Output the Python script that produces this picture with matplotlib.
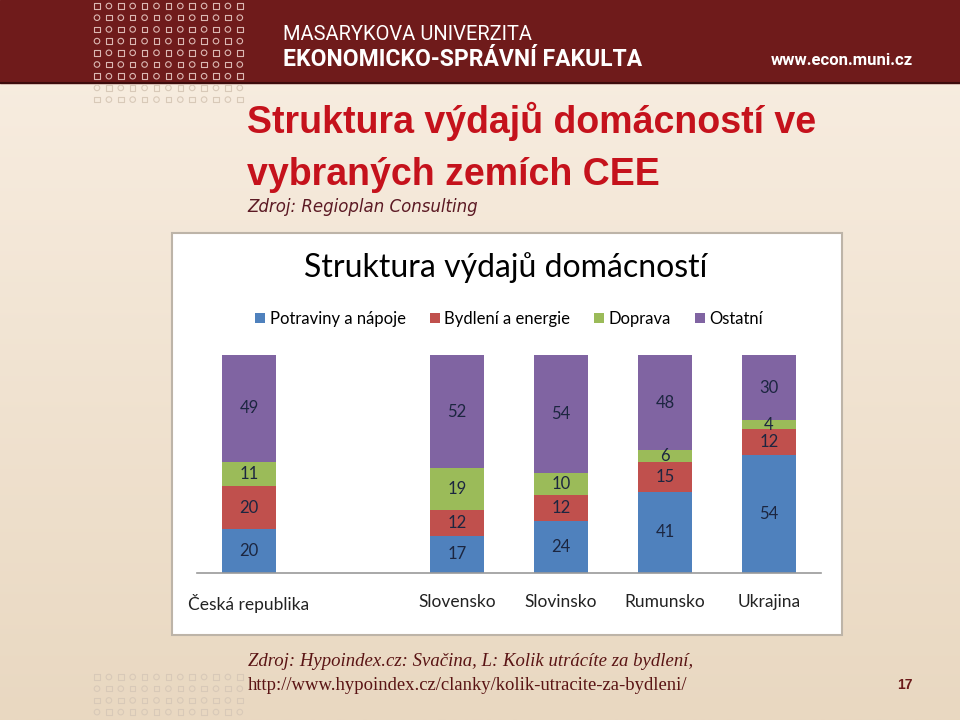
import numpy as np
import matplotlib
matplotlib.use("Agg")
import matplotlib.pyplot as plt
from matplotlib.patches import Rectangle
from matplotlib.colors import LinearSegmentedColormap

# data (Regioplan Consulting, values as printed in the chart)
countries = ["Česká republika", "", "Slovensko", "Slovinsko", "Rumunsko", "Ukrajina"]
series = ["Potraviny a nápoje", "Bydlení a energie", "Doprava", "Ostatní"]
food = np.array([20, 0, 17, 24, 41, 54])
housing = np.array([20, 0, 12, 12, 15, 12])
transport = np.array([11, 0, 19, 10, 6, 4])
other = np.array([49, 0, 52, 54, 48, 30])
colors = ["#4f81bd", "#c0504d", "#9bbb59", "#8064a2"]

fig = plt.figure(figsize=(9.6, 7.2), dpi=100)

# slide background
bg = fig.add_axes([0, 0, 1, 1])
bg.set_xlim(0, 960)
bg.set_ylim(720, 0)
bg.axis("off")
beige = LinearSegmentedColormap.from_list("beige", ["#f9efe3", "#e9d8c1"])
bg.imshow(np.linspace(0, 1, 256).reshape(-1, 1), extent=[0, 960, 720, 0],
          cmap=beige, aspect="auto", zorder=0)
bg.add_patch(Rectangle((0, 0), 960, 83, color="#6f1b1b", zorder=1))
bg.plot([0, 960], [83, 83], color="#3d0c0c", lw=1.5, zorder=2)

# dot pattern
def dots(y0, rows, first_color, other_color, n_top):
    for r in range(rows):
        for c in range(13):
            y = y0 + r * 11.7
            mk = "s" if (r + c) % 2 == 0 else "o"
            col = first_color if r < n_top else other_color
            bg.scatter(97 + c * 11.9, y, marker=mk, s=16, facecolor="none",
                       edgecolor=col, linewidths=0.8, zorder=3)

dots(6, 9, "#dcb8b3", "#d8c9b8", 7)
dots(677, 4, "#d8c9b8", "#d8c9b8", 0)

# header texts
fig.text(283 / 960, 1 - 40 / 720, "MASARYKOVA UNIVERZITA", family="Roboto",
         fontsize=14.5, color="white", va="baseline")
fig.text(283 / 960, 1 - 66 / 720, "EKONOMICKO-SPRÁVNÍ FAKULTA", family="Roboto",
         fontsize=16.5, fontweight="bold", color="white", va="baseline")
fig.text(913 / 960, 1 - 65 / 720, "www.econ.muni.cz", family="Roboto",
         fontsize=12, fontweight="bold", color="white", va="baseline", ha="right")

# slide title
fig.text(247 / 960, 1 - 133 / 720, "Struktura výdajů domácností ve",
         family="Liberation Sans", fontsize=27, fontweight="bold",
         color="#c5121c", va="baseline")
fig.text(247 / 960, 1 - 185 / 720, "vybraných zemích CEE",
         family="Liberation Sans", fontsize=27, fontweight="bold",
         color="#c5121c", va="baseline")
fig.text(247 / 960, 1 - 207 / 720, "Zdroj: Regioplan Consulting",
         family="DejaVu Sans", style="italic", fontsize=12,
         color="#5c1a24", va="center")

# chart box
bg.add_patch(Rectangle((172, 233), 670, 402, facecolor="white",
                       edgecolor="#bdb4a8", lw=1.5, zorder=4))

fig.text(506 / 960, 1 - 268 / 720, "Struktura výdajů domácností",
         family="Lato", fontsize=23, color="black", ha="center", va="center")

# chart
ax = fig.add_axes([197 / 960, (720 - 573) / 720, 624 / 960, 218 / 720])
ax.set_facecolor("none")
total = food + housing + transport + other
x = np.arange(len(countries))
bottom = np.zeros(len(countries))
handles = []
for name, vals, col in zip(series, [food, housing, transport, other], colors):
    share = np.divide(vals * 100.0, total, out=np.zeros(len(vals)), where=total > 0)
    bars = ax.bar(x, share, bottom=bottom, width=0.51, color=col, label=name)
    ax.bar_label(bars, labels=[str(v) if v else "" for v in vals],
                 label_type="center", family="Lato", fontsize=12,
                 color="#1c2640")
    bottom += share
    handles.append(bars)

ax.set_xlim(-0.5, len(countries) - 0.5)
ax.set_ylim(0, 100)
ax.set_yticks([])
ax.set_xticks(x)
ax.set_xticklabels(countries, family="Lato", fontsize=12.5, color="#222222")
ax.tick_params(axis="x", length=0, pad=15)
for s in ["top", "left", "right"]:
    ax.spines[s].set_visible(False)
ax.spines["bottom"].set_color("#9a9a9a")
ax.spines["bottom"].set_linewidth(1.2)

fig.legend(handles, series, loc="center", bbox_to_anchor=(509 / 960, 1 - 319 / 720),
           ncol=4, frameon=False, prop={"family": "Lato", "size": 12},
           handlelength=0.6, handleheight=0.6, handletextpad=0.25,
           columnspacing=1.45)

# footer
fig.text(248 / 960, 1 - 666 / 720,
         "Zdroj: Hypoindex.cz: Svačina, L: Kolik utrácíte za bydlení,",
         family="Liberation Serif", style="italic", fontsize=13.5,
         color="#5a1414", va="baseline")
fig.text(248 / 960, 1 - 690 / 720,
         "http://www.hypoindex.cz/clanky/kolik-utracite-za-bydleni/",
         family="Liberation Serif", fontsize=13.4, color="#5a1414", va="baseline")
fig.text(905 / 960, 1 - 685 / 720, "17", family="Liberation Sans",
         fontweight="bold", fontsize=10, color="#6b1a1a", ha="center", va="center")

fig.savefig("out.png", dpi=100)
